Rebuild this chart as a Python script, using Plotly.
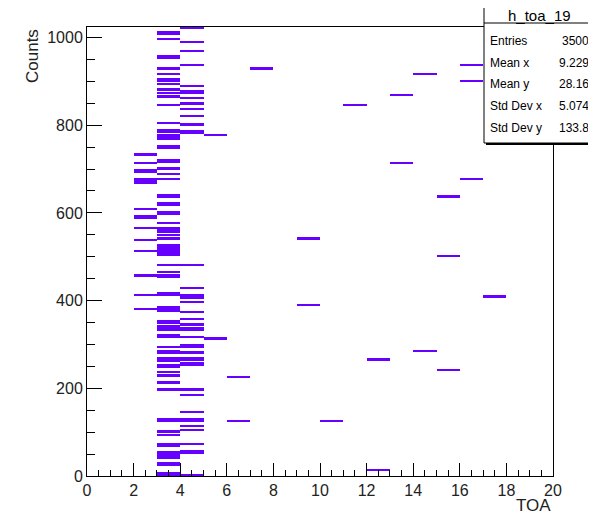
"""
h_toa_19 : TOA vs Counts (2D histogram, ROOT style)
"""

import plotly.graph_objects as go

BIN_H = 4  # y bin width, 256 bins over 0..1024

# lower edges of the filled y bins, one list per TOA bin
toa_2 = [380, 412, 456, 512, 536, 564, 588, 592, 608, 668, 672, 676, 692, 696,
         712, 732]
toa_3 = [0, 4, 24, 28, 40, 44, 48, 52, 68, 72, 92, 100, 124, 128, 196, 212, 228,
         236, 248, 252, 260, 264, 268, 280, 284, 292, 316, 320, 332, 336, 340,
         348, 352, 376, 380, 384, 412, 416, 452, 456, 464, 480, 504, 508, 512,
         516, 520, 524, 540, 548, 556, 560, 564, 576, 596, 600, 616, 620, 636,
         640, 676, 688, 700, 716, 720, 748, 752, 768, 772, 776, 784, 788, 804,
         844, 864, 872, 880, 892, 900, 904, 916, 928, 952, 956, 996, 1008, 1012]
toa_4 = [0, 52, 56, 72, 104, 112, 124, 128, 144, 184, 196, 252, 256, 264, 268,
         280, 292, 296, 316, 332, 336, 344, 356, 372, 396, 404, 408, 412, 428,
         480, 780, 784, 800, 820, 836, 848, 860, 872, 876, 888, 936, 968, 988,
         1020]
toa_5 = [312, 776]
toa_6 = [124, 224]

# isolated entries further out in TOA
sparse_toa = [7, 9, 9, 10, 11, 12, 12, 13, 13, 14, 14, 15, 15, 15, 16, 16, 16, 17]
sparse_counts = [928, 540, 388, 124, 844, 264, 12, 868, 712, 916, 284, 636, 500,
                 240, 936, 900, 676, 408]

x_ticks = [0, 2, 4, 6, 8, 10, 12, 14, 16, 18, 20]
y_ticks = [0, 200, 400, 600, 800, 1000]

stat_title = "h_toa_19"
stat_labels = ["Entries", "Mean x", "Mean y", "Std Dev x", "Std Dev y"]
stat_values = ["3500", "9.229", "28.16", "5.074", "133.8"]

W, H = 596, 512
PAGE_OFF = 8  # default body margin of the html page
# frame position on screen
X0, X1, Y0, Y1 = 87, 553, 27, 476
COLOR = "#6600ff"
FONT = "Liberation Sans, Arial, sans-serif"


def px(x):
    return (x - X0) / (X1 - X0)


def py(y):
    return (Y1 - y) / (Y1 - Y0)


def main() -> None:
    cols = {2: toa_2, 3: toa_3, 4: toa_4, 5: toa_5, 6: toa_6}
    xs, bases = [], []
    for toa, edges in cols.items():
        xs += [toa + 0.5] * len(edges)
        bases += edges
    xs += [t + 0.5 for t in sparse_toa]
    bases += sparse_counts

    fig = go.Figure()
    fig.add_trace(
        go.Bar(
            x=xs,
            y=[BIN_H] * len(xs),
            base=bases,
            width=1,
            marker=dict(color=COLOR, line_width=0),
            hovertemplate="TOA %{x}<br>Counts %{base}<extra></extra>",
        )
    )

    axis_common = dict(
        showgrid=False,
        zeroline=False,
        showline=True,
        linecolor="black",
        linewidth=1,
        mirror=True,
        ticks="inside",
        tickcolor="black",
        tickfont=dict(family=FONT, size=16, color="#222"),
    )
    fig.update_xaxes(
        range=[0, 20],
        tickvals=x_ticks,
        ticklen=13,
        minor=dict(dtick=0.5, ticks="inside", ticklen=6, tickcolor="black"),
        **axis_common,
    )
    fig.update_yaxes(
        range=[0, 1024],
        tickvals=y_ticks,
        ticklen=15,
        minor=dict(dtick=50, ticks="inside", ticklen=8, tickcolor="black"),
        **axis_common,
    )

    shapes = [
        # stats box shadow, box and title divider
        dict(type="rect", xref="paper", yref="paper", layer="above",
             x0=px(486), x1=px(596), y0=py(145), y1=py(9),
             fillcolor="black", line_width=0),
        dict(type="rect", xref="paper", yref="paper", layer="above",
             x0=px(484), x1=px(594), y0=py(143), y1=py(7),
             fillcolor="white", line=dict(color="black", width=1)),
        dict(type="line", xref="paper", yref="paper", layer="above",
             x0=px(484), x1=px(594), y0=py(23), y1=py(23),
             line=dict(color="black", width=1)),
    ]

    stat_font = dict(family=FONT, size=12, color="black")
    annotations = [
        dict(text=stat_title, x=px(539), y=py(15), xref="paper", yref="paper",
             showarrow=False, xanchor="center", yanchor="middle",
             font=dict(family=FONT, size=15, color="black")),
        dict(text="TOA", x=1, y=py(506), xref="paper", yref="paper",
             showarrow=False, xanchor="right", yanchor="middle",
             font=dict(family=FONT, size=17, color="#222")),
        dict(text="Counts", x=px(32), y=1, xref="paper", yref="paper",
             showarrow=False, xanchor="center", yanchor="top", textangle=-90,
             font=dict(family=FONT, size=17, color="#222")),
    ]
    rows_y = [41.5, 62.5, 84, 106, 128]
    for label, value, yy in zip(stat_labels, stat_values, rows_y):
        annotations.append(dict(text=label, x=px(488), y=py(yy), xref="paper",
                                yref="paper", showarrow=False, xanchor="left",
                                yanchor="middle", font=stat_font))
        annotations.append(dict(text=value, x=px(591), y=py(yy), xref="paper",
                                yref="paper", showarrow=False, xanchor="right",
                                yanchor="middle", font=stat_font))

    fig.update_layout(
        width=W,
        height=H,
        margin=dict(l=X0 - PAGE_OFF, r=W + PAGE_OFF - X1,
                    t=Y0 - PAGE_OFF, b=H + PAGE_OFF - Y1),
        paper_bgcolor="white",
        plot_bgcolor="white",
        showlegend=False,
        bargap=0,
        shapes=shapes,
        annotations=annotations,
    )

    fig.write_html("out.html")


if __name__ == "__main__":
    main()
